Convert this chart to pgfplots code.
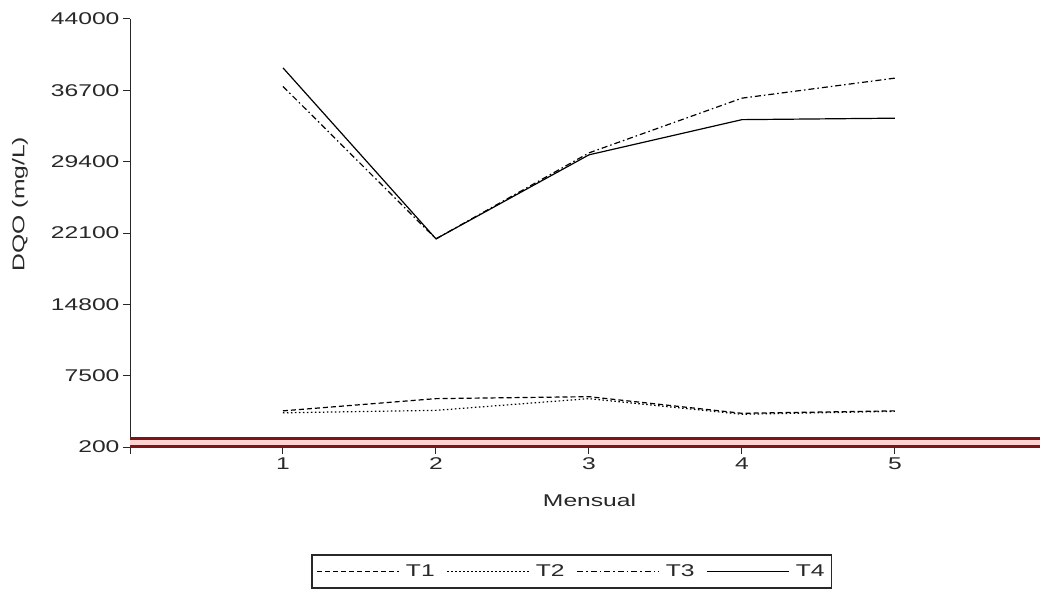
\documentclass[border=0pt]{standalone}
\usepackage{fontspec}
\setmainfont{Liberation Sans}[FakeStretch=1.45]
\usepackage{pgfplots}
\pgfplotsset{compat=1.18}
\definecolor{bandred}{RGB}{125,20,25}
\definecolor{bandpink}{RGB}{255,210,210}
\definecolor{txt}{RGB}{40,40,40}
\newcommand\fsz{\fontsize{17pt}{20pt}\selectfont}
\begin{document}
\begin{tikzpicture}
\path[use as bounding box] (0,0) rectangle (1040pt,595pt);
\begin{axis}[
  at={(130pt,148pt)}, anchor=south west,
  scale only axis, width=910pt, height=428pt,
  xmin=0, xmax=5.948, ymin=200, ymax=44000,
  scaled y ticks=false, scaled x ticks=false,
  axis x line=bottom, axis y line=left,
  axis line style={-, line width=1pt, draw=txt},
  x axis line style={draw=bandred},
  tick align=outside, major tick length=7pt,
  tick style={line width=1pt, draw=txt},
  xtick={0,1,2,3,4,5}, xticklabels={,1,2,3,4,5},
  ytick={200,7500,14800,22100,29400,36700,44000},
  yticklabels={200,7500,14800,22100,29400,36700,44000},
  /pgf/number format/assume math mode=true,
  tick label style={font=\fsz, text=txt},
  label style={font=\fsz, text=txt},
  xlabel={Mensual}, ylabel={DQO (mg/L)},
  xlabel style={at={(axis description cs:0.505,-0.124)}, anchor=center},
  ylabel style={at={(axis description cs:-0.121,0.568)}, anchor=center},
  legend columns=4,
  legend style={at={(axis description cs:0.1989,-0.2500)}, anchor=north west,
    font=\fsz, text=txt, draw=txt, line width=1.5pt, inner xsep=5pt, inner ysep=8pt,
    /tikz/every even column/.append style={column sep=10pt},
    /tikz/every odd column/.append style={column sep=4pt}},
  legend image code/.code={\draw[#1] (0pt,0pt) -- (82pt,0pt);},
]
\addplot[forget plot, draw=bandred, line width=2.2pt, double=bandpink, double distance=5pt] coordinates {(0,712) (5.948,712)};
\addplot[line width=1.2pt, black, dash pattern=on 5pt off 3pt] coordinates {(1,3900) (2,5150) (3,5350) (4,3650) (5,3900)};
\addlegendentry{T1}
\addplot[line width=1.2pt, black, dash pattern=on 1.5pt off 2.5pt] coordinates {(1,3700) (2,3950) (3,5150) (4,3550) (5,3850)};
\addlegendentry{T2}
\addplot[line width=1.2pt, black, dash pattern=on 6pt off 3pt on 1.5pt off 3pt] coordinates {(1,37100) (2,21500) (3,30300) (4,35900) (5,37950)};
\addlegendentry{T3}
\addplot[line width=1.2pt, black] coordinates {(1,39000) (2,21500) (3,30100) (4,33700) (5,33850)};
\addlegendentry{T4}
\end{axis}
\end{tikzpicture}
\end{document}
